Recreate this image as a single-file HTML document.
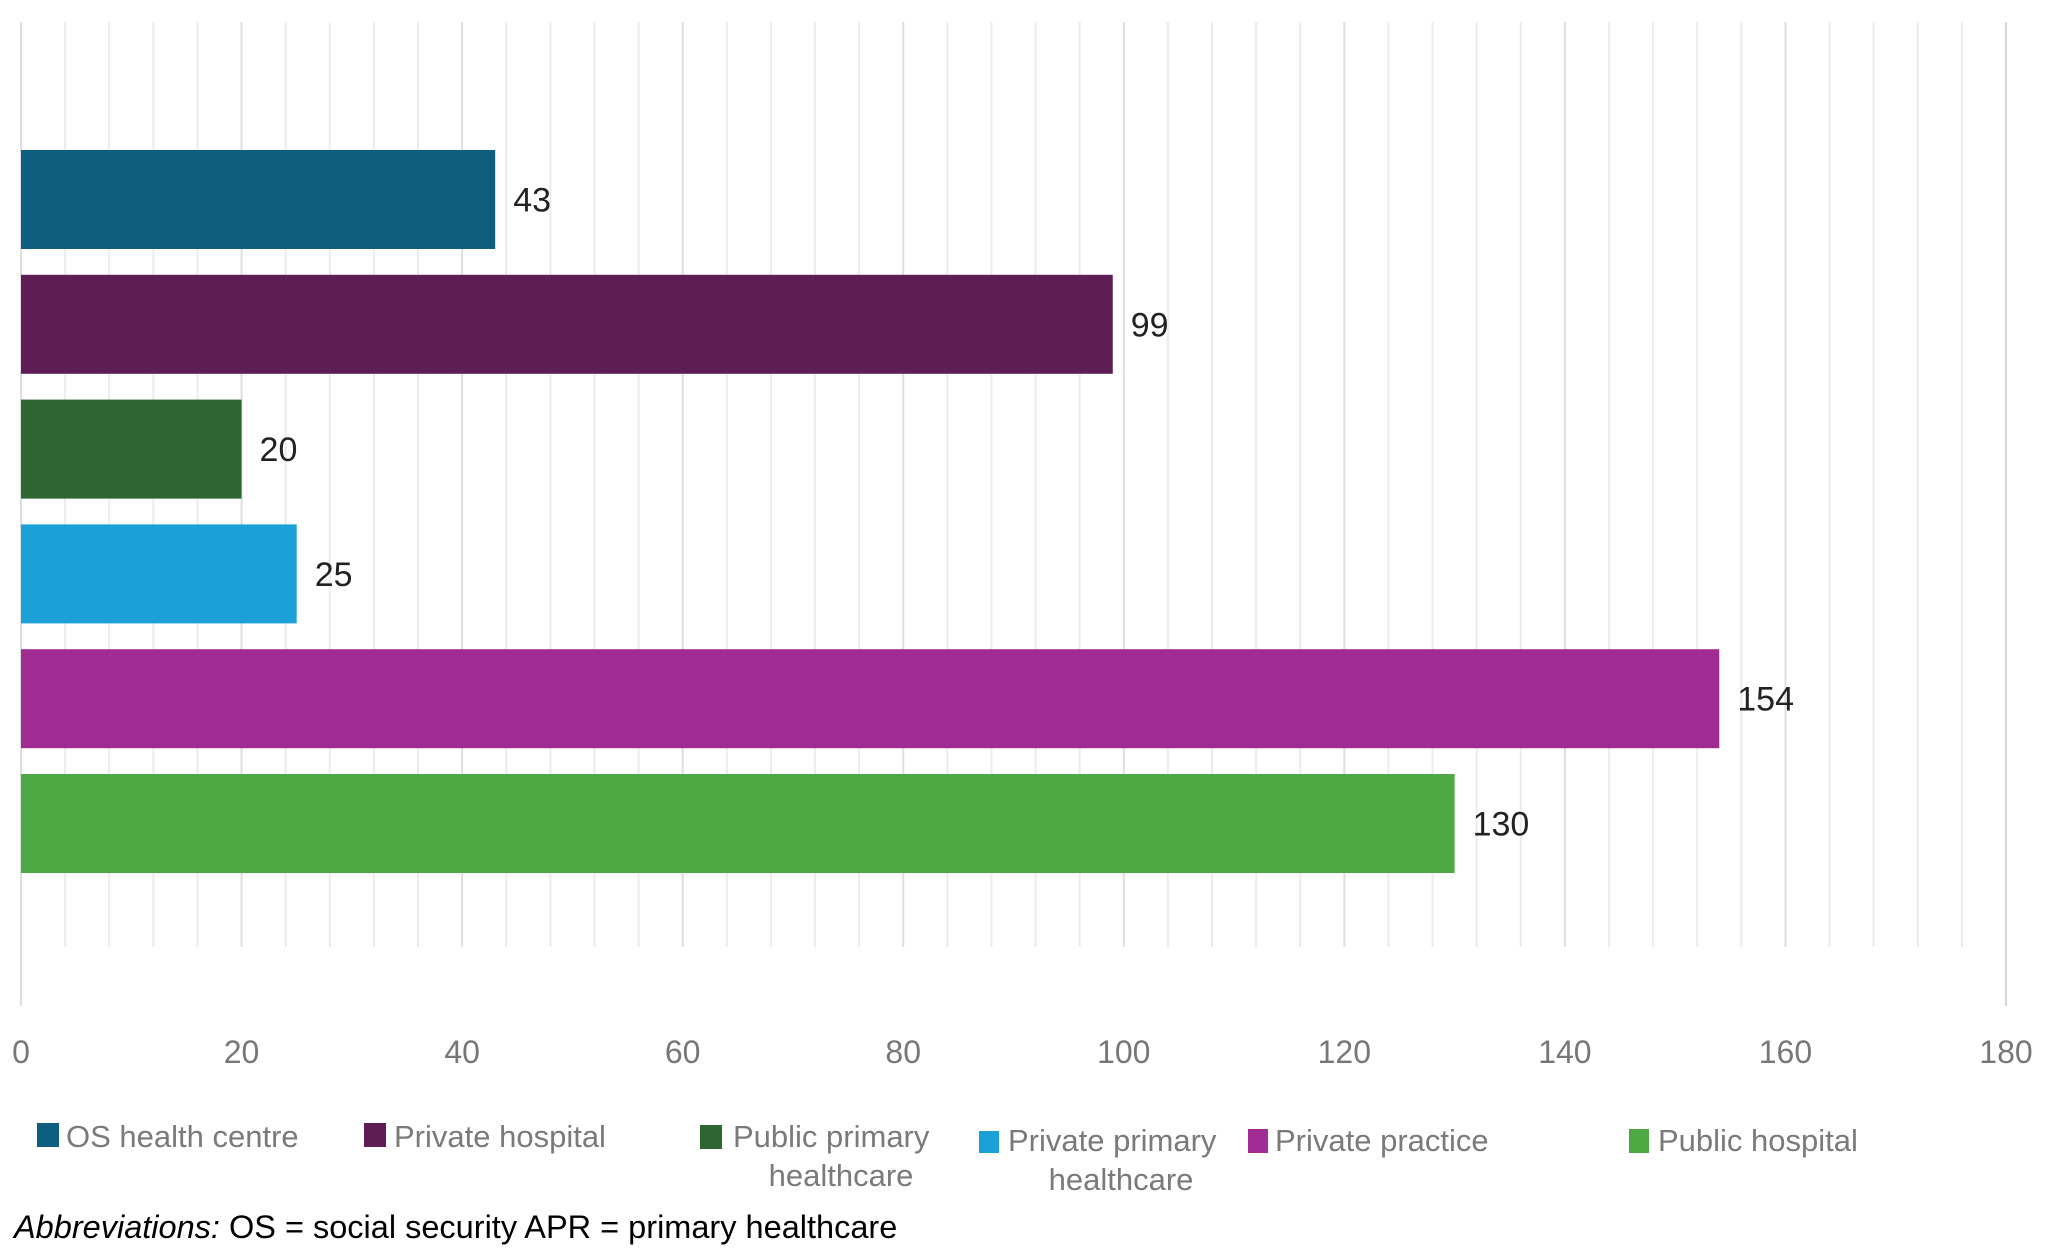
<!DOCTYPE html>
<html><head><meta charset="utf-8">
<style>
html,body{margin:0;padding:0;background:#fff;}
svg{display:block;font-family:"Liberation Sans",Arial,sans-serif;}
</style></head>
<body>
<svg id="chart" width="2050" height="1251" viewBox="0 0 2050 1251">
<g id="grid"></g>
<g id="bars"></g>
<g id="ticks"></g>
<g id="legend" transform="translate(0,-6)">
  <rect x="37" y="1129" width="22" height="24" fill="#0e5e80"/>
  <text x="66" y="1153" font-size="31" fill="#7a7a7a">OS health centre</text>
  <rect x="364" y="1129" width="22" height="24" fill="#5f1d55"/>
  <text x="394" y="1153" font-size="31" fill="#7a7a7a">Private hospital</text>
  <rect x="700" y="1131" width="22" height="24" fill="#2f6530"/>
  <text x="733" y="1153" font-size="31" fill="#7a7a7a">Public primary</text>
  <text x="841" y="1192" font-size="31" fill="#7a7a7a" text-anchor="middle">healthcare</text>
  <rect x="979" y="1137" width="20" height="22" fill="#1ba0d8"/>
  <text x="1008" y="1157" font-size="31" fill="#7a7a7a">Private primary</text>
  <text x="1121" y="1196" font-size="31" fill="#7a7a7a" text-anchor="middle">healthcare</text>
  <rect x="1248" y="1135" width="20" height="24" fill="#a02b92"/>
  <text x="1275" y="1157" font-size="31" fill="#7a7a7a">Private practice</text>
  <rect x="1629" y="1135" width="20" height="24" fill="#4ea843"/>
  <text x="1658" y="1157" font-size="31" fill="#7a7a7a">Public hospital</text>
</g>
<text x="14" y="1238" font-size="32.5" fill="#000"><tspan font-style="italic">Abbreviations:</tspan> OS = social security APR = primary healthcare</text>
</svg>
<script>
const categories = ["OS health centre","Private hospital","Public primary healthcare","Private primary healthcare","Private practice","Public hospital"];
const values = [43, 99, 20, 25, 154, 130];
const colors = ["#0e5e80","#5f1d55","#2f6530","#1ba0d8","#a02b92","#4ea843"];
const tickValues = [0,20,40,60,80,100,120,140,160,180];

const NS="http://www.w3.org/2000/svg";
const X0=21, X1=2006, XMAX=180;
function xScale(v){return X0+(v/XMAX)*(X1-X0);}
const BAR_TOP=150, PITCH=124.8, BAR_H=99;
function yScale(i){return BAR_TOP+i*PITCH;}

const grid=document.getElementById('grid');
for(let v=0; v<=XMAX; v+=4){
  const l=document.createElementNS(NS,'line');
  const major=(v%20===0);
  l.setAttribute('x1',xScale(v));l.setAttribute('x2',xScale(v));
  l.setAttribute('y1',22);l.setAttribute('y2',(v===0)?1006:947);
  l.setAttribute('stroke',major?'#dedede':'#ececec');
  l.setAttribute('stroke-width',2);
  
  
  grid.appendChild(l);
}
const l180=document.createElementNS(NS,'line');
l180.setAttribute('x1',xScale(XMAX));l180.setAttribute('x2',xScale(XMAX));
l180.setAttribute('y1',22);l180.setAttribute('y2',1006);
l180.setAttribute('stroke','#d6d6d6');l180.setAttribute('stroke-width',2);


grid.appendChild(l180);

const bars=document.getElementById('bars');
values.forEach((v,i)=>{
  const r=document.createElementNS(NS,'rect');
  r.setAttribute('x',xScale(0));r.setAttribute('y',yScale(i));
  r.setAttribute('width',xScale(v)-xScale(0));r.setAttribute('height',BAR_H);
  r.setAttribute('fill',colors[i]);
  
  
  bars.appendChild(r);
  const t=document.createElementNS(NS,'text');
  t.setAttribute('x',xScale(v)+18);t.setAttribute('y',yScale(i)+BAR_H/2+12);
  t.setAttribute('font-size','34');t.setAttribute('fill','#222');
  t.textContent=v;
  
  
  bars.appendChild(t);
});

const ticks=document.getElementById('ticks');
tickValues.forEach(v=>{
  const t=document.createElementNS(NS,'text');
  t.setAttribute('x',xScale(v));t.setAttribute('y',1063);
  t.setAttribute('font-size','32');t.setAttribute('fill','#777');
  t.setAttribute('text-anchor','middle');
  t.textContent=v;
  
  
  ticks.appendChild(t);
});
</script>
</body></html>
